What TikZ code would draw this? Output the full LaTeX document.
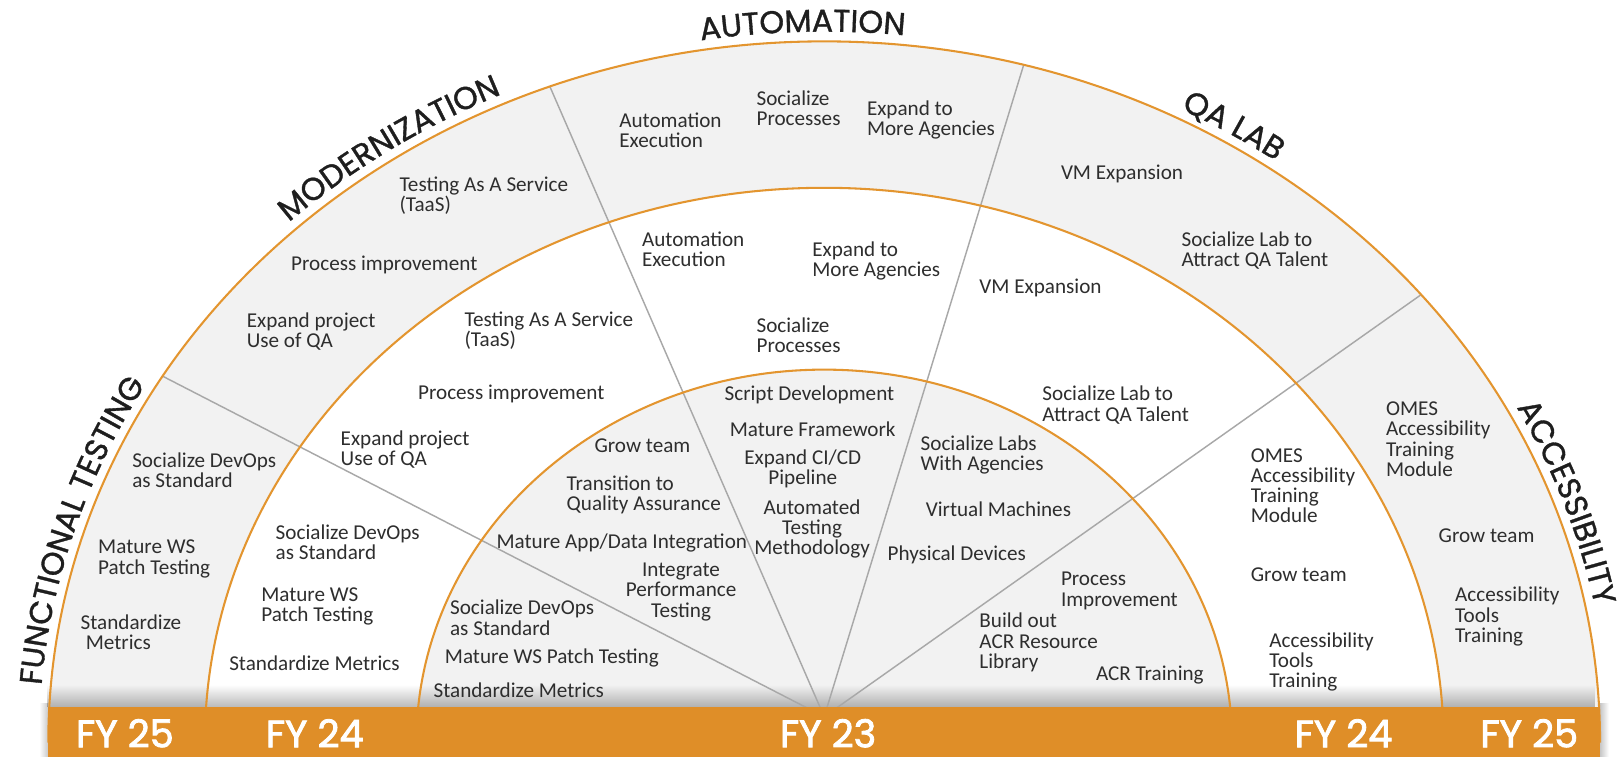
\documentclass[tikz,border=0pt]{standalone}
\usepackage{fontspec}
\setmainfont{Carlito}
\newfontfamily\headfont{Poppins}[FakeBold=1.1]
\newfontfamily\yearfont{Poppins}[FakeBold=2.2]
\usetikzlibrary{decorations.text,fadings}

\definecolor{barorange}{HTML}{DF8E28}
\definecolor{arcorange}{HTML}{E3952F}
\definecolor{ringgrey}{HTML}{F2F2F2}
\definecolor{splitgrey}{HTML}{A8A8A8}
\definecolor{ink}{HTML}{2E2E2E}
\definecolor{headink}{HTML}{1E1E1E}

% radii of the three rings (x and y), all around one centre
\def\outerx{751.9} \def\outery{679.5}
\def\middlex{600.2} \def\middley{537.6}
\def\innerx{395.2} \def\innery{361.4}
% path the headings sit on
\def\headx{761} \def\heady{689}

\tikzset{heading/.style={decorate,decoration={text along path,text align=center,
  text color=headink,text={|\headfont\fontsize{30.5}{30.5}\selectfont|#1}}}}

\begin{document}
\begin{tikzpicture}[x=1pt,y=1pt]
\tikzstyle{item}=[inner sep=0pt,text=ink,align=left,anchor=west,font=\fontsize{20.5}{19.6}\selectfont]
\tikzstyle{citem}=[item,align=center,anchor=center]
\tikzstyle{year}=[inner sep=0pt,text=white,font=\yearfont\fontsize{37}{37}\selectfont]
\tikzstyle{ring}=[draw=arcorange,line width=2pt]
\tikzstyle{split}=[draw=splitgrey,line width=1.4pt]

\useasboundingbox (0,0) rectangle (1568,733.6);
\coordinate (c) at (798.7,14);
\coordinate (hub) at (798.7,39);

% grey / white / grey rings
\fill[ringgrey] (c) ++(\outerx,0)
  arc[start angle=0,end angle=180,x radius=\outerx,y radius=\outery] -- cycle;
\fill[white] (c) ++(\middlex,0)
  arc[start angle=0,end angle=180,x radius=\middlex,y radius=\middley] -- cycle;
\fill[ringgrey] (c) ++(\innerx,0)
  arc[start angle=0,end angle=180,x radius=\innerx,y radius=\innery] -- cycle;

% soft shadow round the bar
\fill[black,opacity=0.28,path fading=north] (47,48) rectangle (1550,70);
\fill[black,opacity=0.22,path fading=west] (38,0) rectangle (46.8,52);
\fill[black,opacity=0.22,path fading=east] (1550.6,0) rectangle (1559,52);

% split lines between the areas
\foreach \a/\n in {148.5/s1,110.7/s2,75.1/s3,39.7/s4}
  \path (c) ++({\outerx*cos(\a)},{\outery*sin(\a)}) coordinate (\n);
\foreach \n in {s1,s2,s3,s4}
  \draw[split] (hub) -- (\n);

\draw[ring] (c) ++(\outerx,0)
  arc[start angle=0,end angle=180,x radius=\outerx,y radius=\outery];
\draw[ring] (c) ++(\middlex,0)
  arc[start angle=0,end angle=180,x radius=\middlex,y radius=\middley];
\draw[ring] (c) ++(\innerx,0)
  arc[start angle=0,end angle=180,x radius=\innerx,y radius=\innery];

% year bar
\fill[barorange] (46.8,0) rectangle (1550.6,48);
\node[year] (fy25l) at (121,23) {FY 25};
\node[year] (fy24l) at (305,23) {FY 24};
\node[year] (fy23) at (802.5,23) {FY 23};
\node[year] (fy24r) at (1302,23) {FY 24};
\node[year] (fy25r) at (1482,23) {FY 25};

% headings, each centred on its own arc
\foreach \t/\m in {FUNCTIONAL TESTING/162.8,MODERNIZATION/124,AUTOMATION/91.6,QA LAB/58.5,ACCESSIBILITY/19.3}
  \path[heading=\t] (c) ++({\headx*cos(\m+25)},{\heady*sin(\m+25)})
    arc[start angle=\m+25,end angle=\m-25,x radius=\headx,y radius=\heady];

% FY 25
\node[item] (ft25a) at (128,278) {Socialize DevOps\\as Standard};
\node[item] (ft25b) at (95,192) {Mature WS\\Patch Testing};
\node[item] (ft25c) at (78,121) {Standardize\\\hspace*{5pt}Metrics};
\node[item] (mo25a) at (387,544) {Testing As A Service\\(TaaS)};
\node[item] (mo25b) at (282,477) {Process improvement};
\node[item] (mo25c) at (239,412) {Expand project\\Use of QA};
\node[item] (au25a) at (600,607) {Automation\\Execution};
\node[item] (au25b) at (733,629) {Socialize\\Processes};
\node[item] (au25c) at (840,617) {Expand to\\More Agencies};
\node[item] (qa25a) at (1028,565) {VM Expansion};
\node[item] (qa25b) at (1145,491) {Socialize Lab to\\Attract QA Talent};
\node[item] (ac25a) at (1343,308) {OMES\\Accessibility\\Training\\Module};
\node[item] (ac25b) at (1394,214) {Grow team};
\node[item] (ac25c) at (1410,136) {Accessibility\\Tools\\Training};

% FY 24
\node[item] (ft24a) at (267,208) {Socialize DevOps\\as Standard};
\node[item] (ft24b) at (253,146) {Mature WS\\Patch Testing};
\node[item] (ft24c) at (222,91) {Standardize Metrics};
\node[item] (mo24a) at (450,413) {Testing As A Service\\(TaaS)};
\node[item] (mo24b) at (405,352) {Process improvement};
\node[item] (mo24c) at (330,298) {Expand project\\Use of QA};
\node[item] (au24a) at (622,492) {Automation\\Execution};
\node[item] (au24b) at (787,481) {Expand to\\More Agencies};
\node[item] (au24c) at (733,409) {Socialize\\Processes};
\node[item] (qa24a) at (949,455) {VM Expansion};
\node[item] (qa24b) at (1010,341) {Socialize Lab to\\Attract QA Talent};
\node[item] (ac24a) at (1212,263) {OMES\\Accessibility\\Training\\Module};
\node[item] (ac24b) at (1212,177) {Grow team};
\node[item] (ac24c) at (1230,92) {Accessibility\\Tools\\Training};

% FY 23
\node[item] (ft23a) at (436,135) {Socialize DevOps\\as Standard};
\node[item] (ft23b) at (431,96) {Mature WS Patch Testing};
\node[item] (ft23c) at (420,65) {Standardize Metrics};
\node[item] (mo23a) at (576,302) {Grow team};
\node[item] (mo23b) at (549,254) {Transition to\\Quality Assurance};
\node[item] (mo23c) at (481,207) {Mature App/Data Integration};
\node[citem] (mo23d) at (660,160) {Integrate\\Performance\\Testing};
\node[item] (au23a) at (702,351) {Script Development};
\node[item] (au23b) at (707,318) {Mature Framework};
\node[citem] (au23c) at (778,279) {Expand CI/CD\\Pipeline};
\node[citem] (au23d) at (787,221) {Automated\\Testing\\Methodology};
\node[item] (qa23a) at (892,293) {Socialize Labs\\With Agencies};
\node[item] (qa23b) at (897,240) {Virtual Machines};
\node[item] (qa23c) at (860,196) {Physical Devices};
\node[item] (ac23a) at (1028,161) {Process\\Improvement};
\node[item] (ac23b) at (949,111) {Build out\\ACR Resource\\Library};
\node[item] (ac23c) at (1062,79) {ACR Training};
\end{tikzpicture}
\end{document}
